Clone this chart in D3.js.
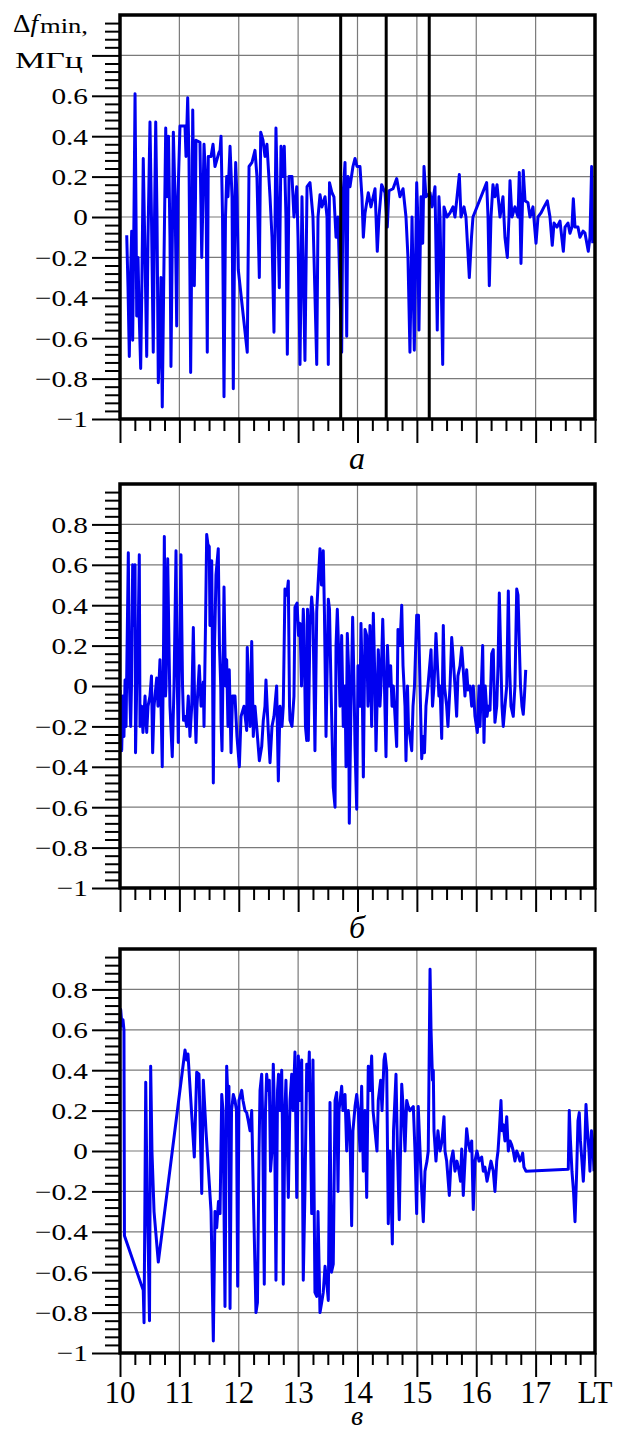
<!DOCTYPE html>
<html>
<head>
<meta charset="utf-8">
<script src="https://cdn.jsdelivr.net/npm/d3@7"></script>
<style>
  body { margin: 0; background: #fff; }
  svg text { font-family: "Liberation Serif", "Times New Roman", Times, serif; fill: #000; }
</style>
</head>
<body>
<div id="chart"></div>
<script>
// time: minutes after 10:00 LT, value: delta f_min, MHz
var tA = [6.8, 8.1, 9.4, 10.6, 11.8, 12.8, 14.1, 15.2, 16.2, 16.9,
  18.2, 19.2, 20.9, 22.2, 23.5, 25.3, 27.0, 28.3, 30.3, 31.8,
  33.6, 34.9, 36.1, 37.4, 38.7, 40.4, 41.4, 42.7, 44.5, 46.2,
  47.5, 49.0, 50.5, 51.5, 53.1, 53.9, 55.6, 57.3, 58.6, 60.6,
  63.7, 65.7, 66.7, 68.4, 69.7, 71.4, 72.8, 73.5, 74.3, 75.1,
  76.3, 76.8, 80.8, 82.6, 83.9, 84.9, 86.9, 88.2, 89.2, 92.0,
  94.0, 96.0, 100.0, 101.1, 102.1, 103.6, 105.1, 106.6, 107.8, 109.1,
  111.2, 113.2, 114.5, 116.2, 116.9, 118.2, 119.5, 128.6, 130.4, 133.4,
  136.4, 138.4, 140.8, 142.2, 144.5, 146.5, 148.5, 151.6, 153.6, 155.6,
  157.6, 158.6, 161.0, 162.7, 164.7, 166.0, 167.7, 169.1, 170.8, 173.8,
  175.8, 178.6, 179.9, 181.9, 183.9, 186.9, 189.0, 192.0, 195.0, 198.8,
  200.1, 202.1, 204.1, 207.2, 209.2, 210.5, 211.7, 214.2, 216.2, 218.3,
  220.3, 224.0, 225.3, 227.4, 229.1, 230.4, 232.4, 235.4, 237.5, 239.5,
  242.5, 244.5, 245.9, 247.6, 250.9, 253.6, 257.7, 260.0, 261.7, 264.4,
  267.8, 270.1, 271.8, 275.9, 279.6, 282.9, 286.0, 289.0, 291.0, 293.0,
  295.1, 297.4, 299.8, 300.6, 302.1, 304.2, 305.9, 307.2, 309.2, 313.3,
  315.3, 318.3, 320.6, 322.3, 323.4, 326.1, 327.4, 330.4, 333.5, 336.5,
  338.5, 342.9, 344.6, 347.6, 349.6, 353.0, 355.2, 356.7, 370.5, 371.9,
  373.2, 374.9, 376.9, 378.9, 381.0, 384.0, 387.0, 389.0, 391.4, 393.1,
  394.1, 396.1, 399.1, 402.2, 403.5, 405.2, 407.5, 409.3, 412.3, 414.3,
  417.3, 420.4, 422.4, 425.4, 428.5, 431.8, 434.5, 436.8, 438.6, 441.6,
  444.6, 448.0, 449.7, 452.7, 454.7, 456.7, 458.1, 459.8, 462.8, 464.8,
  467.9, 469.9, 473.2, 474.9, 476.6, 477.7];
var vA = [-0.09, -0.35, -0.69, -0.30, -0.07, -0.61, 0.00, 0.61, 0.00, -0.49,
  -0.20, -0.45, -0.75, -0.30, 0.29, -0.20, -0.69, -0.10, 0.47, 0.00,
  -0.67, 0.00, 0.47, 0.00, -0.82, -0.60, -0.30, -0.94, -0.20, 0.44,
  0.10, 0.40, -0.10, -0.74, 0.00, 0.42, 0.10, -0.54, 0.10, 0.45,
  0.45, 0.45, 0.30, 0.59, 0.30, -0.77, 0.00, 0.53, 0.20, -0.34,
  0.10, 0.38, 0.37, -0.20, 0.10, 0.36, 0.15, -0.67, 0.30, 0.30,
  0.36, 0.25, 0.32, 0.33, 0.40, 0.00, -0.89, 0.00, 0.20, 0.10,
  0.35, 0.10, -0.85, 0.10, 0.27, 0.10, -0.26, -0.67, 0.25, 0.27,
  0.33, 0.20, -0.30, 0.42, 0.38, 0.30, 0.36, 0.10, -0.10, -0.57,
  0.44, 0.20, -0.35, 0.35, 0.20, 0.35, 0.00, -0.68, 0.20, 0.20,
  0.00, 0.15, -0.10, -0.73, 0.10, -0.71, 0.15, 0.17, 0.00, -0.73,
  0.00, 0.11, 0.05, 0.10, 0.00, -0.73, 0.17, 0.12, 0.10, -0.10,
  0.00, -0.67, 0.10, 0.27, -0.59, 0.20, 0.15, 0.25, 0.29, 0.25,
  0.25, 0.10, -0.10, 0.02, 0.12, 0.05, 0.14, -0.17, 0.00, 0.16,
  0.12, -0.05, 0.13, 0.14, 0.19, 0.10, 0.14, 0.00, -0.20, -0.67,
  0.00, -0.66, 0.17, 0.05, -0.56, 0.10, -0.13, 0.25, 0.10, 0.12,
  0.05, 0.15, -0.56, 0.10, 0.00, -0.73, 0.05, 0.00, 0.02, 0.05,
  0.00, 0.21, 0.00, 0.05, 0.00, -0.30, -0.10, 0.00, 0.17, 0.00,
  -0.34, 0.00, 0.16, 0.10, 0.16, 0.00, 0.10, -0.10, -0.20, 0.00,
  0.18, 0.00, 0.05, 0.00, 0.22, -0.23, 0.23, 0.08, 0.07, 0.00,
  0.05, -0.13, 0.00, 0.02, 0.05, 0.08, 0.00, -0.14, -0.03, -0.05,
  -0.02, -0.17, -0.05, -0.03, -0.08, -0.05, 0.09, -0.05, -0.05, -0.10,
  -0.07, -0.08, -0.17, -0.10, 0.25, -0.13];

var tB = [0, 1.7, 3.0, 4.0, 5.1, 6.1, 8.4, 9.6, 10.8, 11.6,
  12.8, 14.1, 15.2, 15.7, 16.9, 18.2, 19.5, 20.2, 21.9, 23.2,
  25.3, 27.0, 28.3, 30.3, 31.8, 33.0, 34.4, 37.1, 38.4, 40.4,
  41.9, 42.7, 44.0, 44.8, 46.0, 46.5, 48.2, 49.5, 50.5, 52.8,
  54.6, 56.6, 57.6, 58.9, 60.6, 61.6, 63.2, 64.2, 65.7, 67.4,
  69.0, 70.7, 72.5, 74.1, 75.3, 76.8, 77.8, 80.1, 81.9, 84.2,
  84.9, 86.4, 87.6, 88.9, 90.2, 90.9, 92.7, 93.5, 94.3, 95.5,
  96.0, 97.0, 99.3, 100.5, 101.8, 102.1, 103.1, 105.1, 106.6, 107.8,
  109.1, 110.4, 112.2, 113.7, 116.2, 118.2, 120.6, 122.3, 125.3, 128.0,
  128.6, 130.4, 131.4, 133.1, 134.7, 136.4, 138.1, 140.8, 143.2, 144.8,
  146.5, 147.5, 149.6, 151.6, 153.6, 155.6, 158.3, 160.0, 161.7, 163.7,
  165.0, 166.7, 168.5, 170.1, 171.3, 171.8, 173.8, 175.8, 176.8, 178.9,
  180.4, 181.9, 183.4, 185.2, 185.9, 187.4, 188.7, 189.5, 190.3, 192.0,
  193.7, 195.0, 197.0, 198.8, 200.1, 202.1, 203.6, 205.4, 206.6, 208.2,
  210.5, 211.7, 213.2, 215.5, 217.3, 218.3, 219.6, 220.8, 222.3, 224.0,
  225.6, 227.4, 228.4, 229.7, 230.9, 231.7, 233.4, 235.1, 236.5, 237.5,
  239.2, 240.5, 242.5, 243.5, 244.5, 245.9, 247.6, 249.3, 250.6, 251.6,
  252.6, 254.3, 256.0, 257.7, 258.7, 261.0, 261.7, 262.7, 263.7, 265.5,
  266.8, 268.8, 270.3, 271.8, 273.5, 274.9, 276.2, 279.6, 280.9, 282.9,
  284.7, 286.0, 288.0, 289.0, 290.5, 291.5, 293.0, 294.8, 296.1, 297.6,
  299.8, 301.6, 303.2, 304.9, 306.5, 307.7, 309.2, 311.2, 314.3, 315.8,
  317.3, 319.3, 320.8, 322.3, 323.4, 325.1, 326.7, 327.9, 330.1, 331.4,
  333.5, 335.2, 336.5, 338.5, 340.2, 341.5, 343.6, 345.3, 346.6, 348.6,
  350.3, 351.7, 353.7, 355.4, 357.0, 358.7, 361.1, 362.8, 363.8, 366.5,
  367.8, 369.1, 370.9, 372.2, 373.9, 375.6, 377.2, 378.4, 378.9, 380.7,
  382.0, 383.3, 384.5, 386.0, 387.3, 389.0, 390.8, 392.4, 393.6, 395.1,
  397.4, 399.1, 400.9, 402.2, 403.5, 404.7, 406.2, 407.5, 408.7, 410.0];
var vB = [-0.02, -0.32, -0.05, -0.25, 0.03, -0.20, 0.66, 0.00, -0.20, 0.00,
  0.60, 0.30, 0.60, -0.33, 0.00, 0.20, 0.65, -0.20, -0.10, -0.23,
  -0.05, -0.23, -0.10, -0.05, 0.05, -0.33, -0.10, 0.04, -0.10, 0.13,
  -0.20, -0.40, 0.20, 0.74, -0.05, 0.00, 0.63, 0.20, -0.10, -0.35,
  0.00, 0.67, 0.10, -0.28, 0.30, 0.65, 0.00, -0.17, -0.15, -0.20,
  -0.05, -0.25, -0.10, 0.29, -0.05, -0.28, -0.10, 0.10, -0.10, 0.02,
  -0.20, 0.30, 0.75, 0.70, 0.69, 0.30, 0.62, 0.10, -0.48, 0.20,
  0.30, 0.55, 0.68, 0.20, 0.00, -0.17, -0.32, 0.49, 0.00, 0.13,
  -0.20, 0.08, -0.33, -0.05, -0.05, -0.25, -0.40, -0.15, -0.10, -0.22,
  0.19, -0.10, -0.20, 0.22, -0.25, -0.10, -0.20, -0.37, -0.30, -0.17,
  -0.10, 0.03, -0.20, -0.38, -0.20, -0.15, 0.00, -0.47, -0.10, -0.20,
  -0.10, 0.48, 0.45, 0.52, -0.10, -0.17, -0.20, -0.05, 0.39, 0.41,
  0.25, 0.31, 0.00, 0.38, 0.30, -0.20, -0.27, 0.38, -0.27, 0.30,
  0.44, 0.36, -0.32, 0.37, 0.50, 0.68, 0.50, 0.67, 0.36, -0.25,
  0.43, 0.38, 0.00, -0.50, -0.60, 0.20, 0.38, 0.20, -0.10, 0.25,
  -0.20, 0.00, -0.40, 0.26, 0.10, -0.68, -0.10, 0.34, 0.00, -0.30,
  -0.61, 0.10, -0.10, 0.31, 0.10, -0.45, 0.28, 0.25, -0.10, 0.00,
  0.30, -0.20, 0.36, 0.00, -0.32, 0.18, 0.10, -0.10, 0.00, 0.33,
  0.10, -0.35, 0.20, 0.00, 0.10, -0.10, 0.00, -0.30, 0.28, 0.20,
  0.40, 0.10, -0.10, -0.37, 0.00, -0.20, -0.25, -0.32, -0.10, 0.00,
  0.35, 0.35, 0.00, -0.36, -0.25, -0.33, -0.10, 0.00, 0.18, -0.10,
  0.00, 0.26, 0.10, -0.05, 0.00, -0.26, 0.30, 0.00, -0.10, -0.20,
  0.00, 0.24, 0.15, 0.00, -0.15, 0.05, 0.10, 0.19, 0.10, -0.05,
  0.08, -0.02, 0.00, -0.10, 0.00, -0.15, -0.23, 0.00, -0.20, 0.20,
  -0.28, 0.00, -0.15, -0.10, -0.12, 0.16, 0.18, -0.10, -0.18, -0.10,
  0.10, 0.46, 0.20, -0.10, -0.20, -0.10, 0.00, 0.47, 0.10, -0.10,
  -0.15, 0.00, 0.48, 0.45, 0.21, 0.00, -0.10, -0.14, -0.05, 0.08];

var tC = [0, 0.7, 2.0, 3.0, 4.0, 4.5, 23.5, 24.3, 26.0, 27.3,
  28.6, 29.8, 31.0, 32.3, 34.4, 38.7, 65.7, 67.4, 68.7, 75.1,
  77.5, 79.8, 82.6, 84.2, 86.9, 92.0, 94.3, 96.0, 97.7, 99.5,
  101.1, 102.8, 104.1, 106.1, 107.8, 109.1, 110.1, 111.2, 112.7, 114.5,
  116.2, 117.7, 118.9, 120.2, 123.0, 124.3, 126.3, 128.0, 129.6, 131.4,
  133.1, 134.7, 137.4, 138.9, 140.5, 141.5, 143.2, 144.0, 145.8, 147.0,
  148.2, 149.6, 150.9, 152.1, 153.6, 154.9, 156.1, 157.6, 159.2, 160.2,
  161.7, 163.4, 164.2, 165.0, 166.7, 167.7, 168.8, 170.1, 171.8, 173.5,
  174.8, 176.8, 178.6, 180.2, 181.9, 183.6, 185.2, 186.9, 188.7, 190.0,
  191.3, 193.7, 195.0, 197.0, 198.8, 200.1, 202.1, 203.8, 205.4, 207.2,
  208.9, 210.5, 212.2, 213.7, 215.5, 217.3, 219.0, 220.3, 221.3, 224.0,
  225.3, 227.4, 229.1, 230.7, 232.4, 234.1, 235.4, 237.5, 239.2, 240.8,
  242.5, 244.2, 245.9, 247.6, 249.3, 250.9, 252.6, 254.3, 255.7, 257.7,
  259.7, 261.0, 263.4, 264.8, 266.8, 267.8, 269.5, 271.1, 272.8, 275.2,
  276.4, 278.9, 280.4, 282.2, 284.7, 286.3, 288.0, 289.7, 291.3, 293.0,
  296.4, 298.1, 299.8, 301.4, 303.2, 304.9, 306.5, 308.2, 310.2, 311.5,
  313.3, 314.3, 315.8, 316.6, 317.3, 319.3, 321.3, 323.4, 325.4, 327.4,
  328.4, 330.1, 332.8, 334.5, 336.5, 338.5, 340.5, 342.6, 344.1, 345.3,
  346.9, 348.6, 350.3, 351.7, 353.7, 355.4, 357.0, 358.7, 360.7, 362.8,
  365.5, 367.1, 368.8, 370.9, 372.9, 374.9, 377.2, 378.9, 380.7, 382.0,
  383.3, 385.0, 386.0, 387.3, 389.0, 390.8, 392.4, 394.1, 395.8, 397.4,
  399.1, 400.9, 402.5, 404.2, 405.9, 406.9, 408.2, 410.3, 453.0, 454.0,
  455.2, 456.7, 458.3, 459.8, 461.5, 462.8, 464.1, 465.3, 466.8, 468.2,
  469.4, 470.9, 472.4, 473.9, 474.9, 476.4, 477.7, 479.0];
var vC = [0.60, 0.70, 0.62, 0.65, 0.60, -0.42, -0.69, -0.85, 0.34, -0.20,
  -0.50, -0.84, 0.42, 0.00, -0.30, -0.55, 0.50, 0.45, 0.48, -0.03,
  0.39, 0.38, -0.21, 0.35, 0.10, -0.30, -0.94, -0.30, -0.38, -0.25,
  -0.31, 0.28, 0.20, -0.77, 0.42, 0.25, 0.32, -0.78, 0.20, 0.28,
  0.25, 0.20, -0.67, 0.25, 0.30, 0.25, 0.20, 0.19, 0.15, 0.10,
  0.20, -0.20, -0.80, -0.75, 0.00, 0.30, 0.38, 0.20, -0.66, 0.20,
  0.38, 0.30, 0.35, -0.10, 0.00, 0.43, 0.20, -0.64, 0.30, 0.38,
  0.20, 0.40, 0.10, -0.66, 0.20, 0.35, 0.10, -0.23, 0.25, 0.38,
  0.20, 0.49, -0.23, 0.47, 0.25, 0.45, -0.64, -0.20, 0.43, 0.30,
  0.49, -0.31, 0.45, -0.70, -0.72, -0.30, -0.80, -0.75, -0.70, -0.57,
  -0.65, -0.74, 0.24, -0.60, -0.56, 0.25, 0.29, -0.20, 0.20, 0.32,
  0.20, 0.28, 0.00, 0.20, 0.10, -0.37, 0.10, 0.22, 0.28, 0.20,
  0.00, 0.32, -0.10, 0.20, -0.23, 0.42, 0.30, 0.47, 0.20, 0.10,
  0.00, 0.25, 0.35, 0.20, 0.45, 0.48, 0.40, -0.36, 0.00, -0.46,
  0.10, 0.38, 0.00, -0.34, 0.33, 0.20, 0.00, 0.25, 0.22, 0.20,
  0.22, 0.00, -0.31, 0.22, 0.00, -0.20, -0.35, -0.10, -0.05, 0.00,
  0.90, 0.60, 0.35, 0.40, 0.10, -0.05, 0.10, 0.00, 0.05, 0.17,
  0.00, -0.05, -0.22, -0.05, 0.00, -0.10, -0.05, -0.10, -0.15, 0.01,
  -0.22, -0.05, 0.11, 0.05, 0.00, 0.05, -0.29, -0.05, 0.00, -0.05,
  -0.03, -0.10, -0.08, -0.15, -0.10, -0.05, -0.10, -0.20, -0.05, 0.00,
  0.10, 0.25, 0.10, 0.13, 0.05, 0.17, 0.00, 0.05, 0.03, 0.00,
  -0.05, 0.00, -0.02, -0.05, -0.03, -0.01, -0.08, -0.10, -0.09, 0.20,
  0.05, -0.10, -0.20, -0.35, -0.10, 0.15, 0.19, 0.05, -0.05, -0.15,
  -0.03, 0.23, 0.10, 0.00, -0.10, 0.10, 0.05, -0.10];

// thick vertical markers in panel a (minutes after 10:00 LT)
var markA = [223, 269, 312.5];

var hourTicks = [0, 60, 120, 180, 240, 300, 360, 420, 480];
var hourLabels = ["10", "11", "12", "13", "14", "15", "16", "17", "LT"];
var yTicks = [-1, -0.8, -0.6, -0.4, -0.2, 0, 0.2, 0.4, 0.6, 0.8];
var yLabels = ["\u22121", "\u22120.8", "\u22120.6", "\u22120.4", "\u22120.2", "0", "0.2", "0.4", "0.6", "0.8"];
var panelNames = ["\u0430", "\u0431", "\u0432"];

var left = 120, right = 595, ph = 404;
var tops = [15, 484, 949];

var svg = d3.select("#chart").append("svg")
    .attr("width", 617)
    .attr("height", 1431);

var x = d3.scaleLinear().domain([0, 480]).range([left, right]);

var xMinor = d3.range(0, 481, 15).filter(function(m) { return m % 60 !== 0; });
var yMinor = d3.range(-25, 25).filter(function(k) { return k % 5 !== 0; })
    .map(function(k) { return k * 0.04; });

var series = [d3.zip(tA, vA), d3.zip(tB, vB), d3.zip(tC, vC)];

series.forEach(function(data, i) {
  var top = tops[i], bottom = top + ph;
  var y = d3.scaleLinear().domain([-1, 1]).range([bottom, top]);
  var g = svg.append("g");

  // grid
  g.append("g").selectAll("line")
    .data(hourTicks.slice(1, -1)).join("line")
      .attr("x1", function(d) { return x(d); })
      .attr("x2", function(d) { return x(d); })
      .attr("y1", top).attr("y2", bottom)
      .attr("stroke", "#7a7a7a").attr("stroke-width", 1.2);

  g.append("g").selectAll("line")
    .data(yTicks.slice(1)).join("line")
      .attr("x1", left).attr("x2", right)
      .attr("y1", function(d) { return y(d); })
      .attr("y2", function(d) { return y(d); })
      .attr("stroke", "#7a7a7a").attr("stroke-width", 1.2);

  // series
  var line = d3.line()
      .x(function(d) { return x(d[0]); })
      .y(function(d) { return y(d[1]); });

  g.append("path")
    .attr("d", line(data))
    .attr("fill", "none")
    .attr("stroke", "#0000f0")
    .attr("stroke-width", 3)
    .attr("stroke-linejoin", "round");

  if (i === 0) {
    g.append("g").selectAll("line")
      .data(markA).join("line")
        .attr("x1", function(d) { return x(d); })
        .attr("x2", function(d) { return x(d); })
        .attr("y1", top).attr("y2", bottom)
        .attr("stroke", "#000").attr("stroke-width", 3);
  }

  // frame
  g.append("rect")
    .attr("x", left).attr("y", top)
    .attr("width", right - left).attr("height", ph)
    .attr("fill", "none").attr("stroke", "#000").attr("stroke-width", 3.5);

  // x ticks
  g.append("g")
    .attr("transform", "translate(0," + bottom + ")")
    .call(d3.axisBottom(x).tickValues(xMinor).tickSize(12).tickFormat(""))
    .call(function(a) { a.select(".domain").remove(); })
    .selectAll("line").attr("stroke-width", 2);

  g.append("g")
    .attr("transform", "translate(0," + bottom + ")")
    .call(d3.axisBottom(x).tickValues(hourTicks).tickSize(24).tickFormat(""))
    .call(function(a) { a.select(".domain").remove(); })
    .selectAll("line").attr("stroke-width", 2);

  // y ticks
  g.append("g")
    .attr("transform", "translate(" + left + ",0)")
    .call(d3.axisLeft(y).tickValues(yMinor).tickSize(15).tickFormat(""))
    .call(function(a) { a.select(".domain").remove(); })
    .selectAll("line").attr("stroke-width", 2);

  g.append("g")
    .attr("transform", "translate(" + left + ",0)")
    .call(d3.axisLeft(y).tickValues(yTicks).tickSize(28).tickFormat(""))
    .call(function(a) { a.select(".domain").remove(); })
    .selectAll("line").attr("stroke-width", 2);

  // y labels
  var labelIdx = d3.range(yTicks.length).filter(function(k) { return i > 0 || yTicks[k] < 0.7; });
  g.append("g").selectAll("text")
    .data(labelIdx).join("text")
      .attr("transform", function(k) { return "translate(88," + y(yTicks[k]) + ") scale(1.22,1)"; })
      .attr("dy", "0.35em")
      .attr("text-anchor", "end")
      .attr("font-size", 24)
      .text(function(k) { return yLabels[k]; });

  // panel letter
  g.append("text")
    .attr("x", 357)
    .attr("y", i === 2 ? 1425 : bottom + 50)
    .attr("text-anchor", "middle")
    .attr("font-size", i === 2 ? 28 : 32)
    .attr("font-style", "italic")
    .text(panelNames[i]);

  if (i === 2) {
    g.append("g").selectAll("text")
      .data(d3.range(hourTicks.length)).join("text")
        .attr("x", function(k) { return x(hourTicks[k]); })
        .attr("y", 1403)
        .attr("text-anchor", "middle")
        .attr("font-size", 31)
        .text(function(k) { return hourLabels[k]; });
  }
});

// axis title in panel a
var title = svg.append("g");
title.append("text")
  .attr("x", 13).attr("y", 32)
  .attr("font-size", 25)
  .attr("textLength", 25).attr("lengthAdjust", "spacingAndGlyphs")
  .html("\u0394<tspan font-style=\"italic\">f</tspan>");
title.append("text")
  .attr("x", 40).attr("y", 33)
  .attr("font-size", 21)
  .attr("textLength", 48).attr("lengthAdjust", "spacingAndGlyphs")
  .text("min,");
title.append("text")
  .attr("x", 15).attr("y", 68)
  .attr("font-size", 24)
  .attr("textLength", 68).attr("lengthAdjust", "spacingAndGlyphs")
  .text("\u041c\u0413\u0446");
</script>
</body>
</html>
